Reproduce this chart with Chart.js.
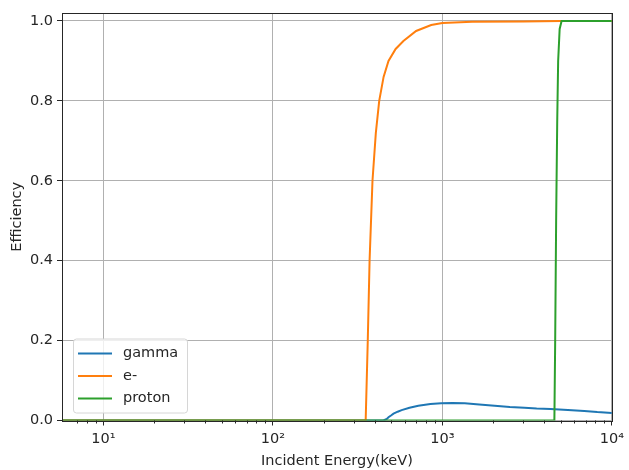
<!DOCTYPE html>
<html>
<head>
<meta charset="utf-8">
<script src="https://cdn.jsdelivr.net/npm/chart.js@4"></script>
<style>
  html, body { margin: 0; padding: 0; background: #fff; }
  #wrap { width: 629px; height: 470px; position: relative; }
</style>
</head>
<body>
<div id="wrap"><canvas id="chart1"></canvas></div>
<script>
// gamma
const gammaE = [5.7, 449, 470, 481, 500, 515, 545, 575, 640, 721, 850, 984, 1150, 1355, 1650, 2034, 2500, 3050, 3600, 4350, 5500, 6870, 8200, 10000];
const gammaEff = [0, 0, 0.004, 0.008, 0.013, 0.017, 0.022, 0.026, 0.032, 0.037, 0.041, 0.043, 0.044, 0.043, 0.040, 0.037, 0.034, 0.032, 0.030, 0.029, 0.026, 0.024, 0.021, 0.019];
// e-
const elecE = [5.7, 350, 353, 363, 372, 387, 405, 424, 450, 481, 530, 589, 700, 859, 1000, 1500, 3000, 5000, 10000];
const elecEff = [0, 0, 0.005, 0.2, 0.4, 0.6, 0.72, 0.8, 0.86, 0.9, 0.93, 0.95, 0.975, 0.99, 0.995, 0.998, 0.999, 1.0, 1.0];
// proton
const protE = [5.7, 4580, 4630, 4690, 4760, 4820, 4920, 5050, 10000];
const protEff = [0, 0, 0.2, 0.5, 0.75, 0.9, 0.98, 1.0, 1.0];

const yTicks = [0, 0.2, 0.4, 0.6, 0.8, 1.0];
const sup = {1: '\u00b9', 2: '\u00b2', 3: '\u00b3', 4: '\u2074'};

function pts(xs, ys) {
    return xs.map((x, i) => ({x: x, y: ys[i]}));
}
function isPow10(v) {
    const l = Math.log10(v);
    return Math.abs(l - Math.round(l)) < 1e-9;
}
function isNice(v) {
    const p = Math.pow(10, Math.floor(Math.log10(v) + 1e-9));
    const s = v / p;
    return Math.abs(s - Math.round(s)) < 1e-9;
}

const FONT = 'DejaVu Sans';
const INK = '#262626';

// frame, minor ticks and the in-plot legend
const extras = {
    id: 'extras',
    afterDraw(chart) {
        const ctx = chart.ctx;
        const a = chart.chartArea;
        const xs = chart.scales.x;
        ctx.save();
        ctx.strokeStyle = INK;
        ctx.lineWidth = 1;
        xs.ticks.forEach(t => {
            if (isPow10(t.value)) return;
            const px = Math.round(xs.getPixelForValue(t.value)) + 0.5;
            ctx.beginPath();
            ctx.moveTo(px, a.bottom);
            ctx.lineTo(px, a.bottom + 3);
            ctx.stroke();
        });
        ctx.strokeRect(Math.round(a.left) + 0.5, Math.round(a.top) + 0.5,
            Math.round(a.right - a.left), Math.round(a.bottom - a.top));

        // legend box
        const bx = a.left + 11, by = a.bottom - 82, bw = 114, bh = 74;
        ctx.fillStyle = 'rgba(255,255,255,0.8)';
        ctx.strokeStyle = '#d6d6d6';
        ctx.beginPath();
        ctx.roundRect(bx + 0.5, by + 0.5, bw, bh, 3);
        ctx.fill();
        ctx.stroke();
        ctx.font = '14.5px "' + FONT + '"';
        ctx.textBaseline = 'middle';
        ctx.fillStyle = INK;
        chart.data.datasets.forEach((ds, i) => {
            const ry = by + 15 + i * 22.5;
            ctx.strokeStyle = ds.borderColor;
            ctx.lineWidth = 2;
            ctx.beginPath();
            ctx.moveTo(bx + 5, ry);
            ctx.lineTo(bx + 39, ry);
            ctx.stroke();
            ctx.fillStyle = INK;
            ctx.fillText(ds.label, bx + 50, ry);
        });
        ctx.restore();
    }
};

new Chart('chart1', {
    type: 'line',
    data: {
        datasets: [{
            label: 'gamma',
            data: pts(gammaE, gammaEff),
            borderColor: '#1f77b4',
            order: 2
        }, {
            label: 'e-',
            data: pts(elecE, elecEff),
            borderColor: '#ff7f0e',
            order: 1
        }, {
            label: 'proton',
            data: pts(protE, protEff),
            borderColor: '#2ca02c',
            order: 0
        }]
    },
    options: {
        responsive: true,
        maintainAspectRatio: false,
        animation: false,
        elements: {
            point: { radius: 0 },
            line: { borderWidth: 2, tension: 0 }
        },
        layout: { padding: { top: 13, right: 14.5, left: 0, bottom: 0 } },
        plugins: {
            legend: { display: false },
            tooltip: { enabled: false }
        },
        scales: {
            x: {
                type: 'logarithmic',
                min: 5.7,
                max: 10000,
                afterFit(scale) { scale.height = 49.5; },
                afterBuildTicks(scale) {
                    scale.ticks = scale.ticks.filter(t => isNice(t.value));
                },
                border: { display: false },
                grid: {
                    color: c => (c.tick && isPow10(c.tick.value)) ? '#b0b0b0' : 'rgba(0,0,0,0)',
                    tickColor: c => (c.tick && isPow10(c.tick.value)) ? INK : 'rgba(0,0,0,0)',
                    tickLength: 5,
                    lineWidth: 1
                },
                ticks: {
                    autoSkip: false,
                    maxRotation: 0,
                    padding: 5,
                    color: INK,
                    font: { family: FONT, size: 14.5 },
                    callback: v => isPow10(v) ? '10' + sup[Math.round(Math.log10(v))] : ''
                },
                title: {
                    display: true,
                    text: 'Incident Energy(keV)',
                    color: INK,
                    font: { family: FONT, size: 14.5 },
                    padding: { top: 0, bottom: 0 }
                }
            },
            y: {
                min: 0,
                max: 1.02,
                afterFit(scale) { scale.width = 62; },
                afterBuildTicks(scale) {
                    scale.ticks = yTicks.map(v => ({value: v}));
                },
                border: { display: false },
                grid: {
                    color: '#b0b0b0',
                    tickColor: INK,
                    tickLength: 5,
                    lineWidth: 1
                },
                ticks: {
                    padding: 4,
                    color: INK,
                    font: { family: FONT, size: 14.5 },
                    callback: v => v.toFixed(1)
                },
                title: {
                    display: true,
                    text: 'Efficiency',
                    color: INK,
                    font: { family: FONT, size: 14.5 },
                    padding: { top: 9, bottom: 0 }
                }
            }
        }
    },
    plugins: [extras]
});
</script>
</body>
</html>
